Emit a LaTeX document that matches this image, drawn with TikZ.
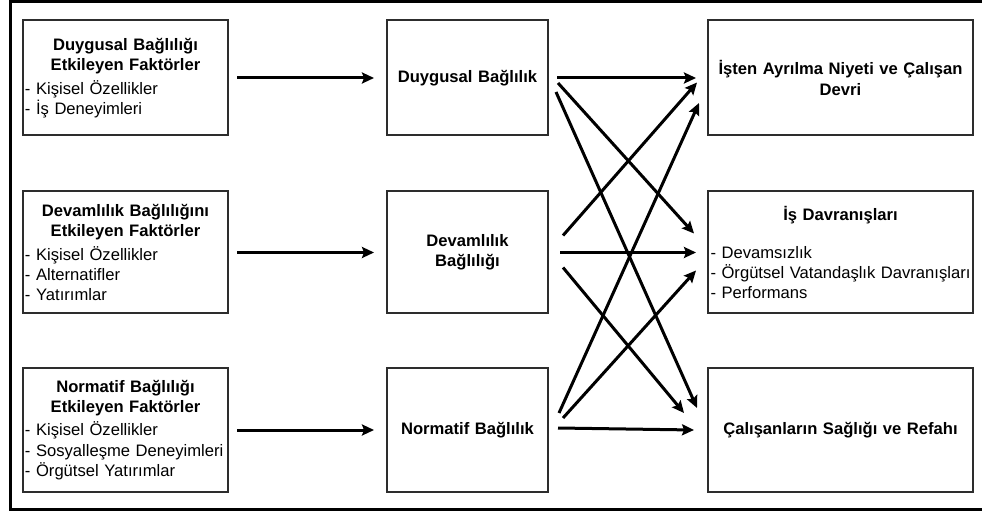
\documentclass[tikz,border=0pt]{standalone}
\usepackage{fontspec}
\setmainfont{Liberation Sans}
\usepackage{tikz}
\usetikzlibrary{arrows.meta,positioning}
\hyphenpenalty=10000
\definecolor{boxgray}{RGB}{45,45,45}
\tikzstyle{arrow} = [line width=0.06cm,->,>={Stealth[length=0.24cm,width=0.22cm,inset=0.04cm]}]
\tikzstyle{factor} = [rectangle, draw=boxgray, line width=0.04cm, minimum width=4.1cm, text width=4.02cm, inner xsep=0.04cm, align=left]
\tikzstyle{bond} = [rectangle, draw=boxgray, line width=0.04cm, minimum width=3.22cm, text width=3.06cm, inner xsep=0.08cm, align=center, font=\fontsize{9.45}{11.6}\selectfont\bfseries]
\tikzstyle{outcome} = [rectangle, draw=boxgray, line width=0.04cm, minimum width=5.3cm, text width=5.2cm, inner xsep=0.05cm, align=center, font=\fontsize{9.45}{11.6}\selectfont\bfseries]

\begin{document}
\begin{tikzpicture}[font=\fontsize{9.45}{11.6}\selectfont]
\useasboundingbox (0,0) rectangle (19.64,-10.26);
% Outer frame
\draw[line width=0.06cm] (19.8,-0.04) -- (0.2,-0.04) -- (0.2,-10.18) -- (19.8,-10.18);

% Factors on the left
\node (dfactors) [factor, minimum height=2.3cm] at (2.51,-1.56) {{\centering\bfseries Duygusal Bağlılığı\\ Etkileyen Faktörler\par}\vspace{0.06cm}
- Kişisel Özellikler\\
- İş Deneyimleri\par\vspace{0.2cm}};
\node (cfactors) [factor, below of=dfactors, node distance=3.49cm, minimum height=2.44cm] {{\centering\bfseries Devamlılık Bağlılığını\\ Etkileyen Faktörler\par}\vspace{0.06cm}
- Kişisel Özellikler\\
- Alternatifler\\
- Yatırımlar};
\node (nfactors) [factor, below of=cfactors, node distance=3.55cm, minimum height=2.48cm] {{\centering\bfseries Normatif Bağlılığı\\ Etkileyen Faktörler\par}\vspace{0.06cm}
- Kişisel Özellikler\\
- Sosyalleşme Deneyimleri\\
- Örgütsel Yatırımlar};

% Commitment types
\node (dbond) [bond, right of=dfactors, node distance=6.84cm, minimum height=2.3cm] {Duygusal Bağlılık};
\node (cbond) [bond, right of=cfactors, node distance=6.84cm, minimum height=2.44cm] {Devamlılık\\ Bağlılığı};
\node (nbond) [bond, right of=nfactors, node distance=6.84cm, minimum height=2.48cm] {Normatif Bağlılık};

% Outcomes on the right
\node (rtop) [outcome, right of=dbond, node distance=7.46cm, minimum height=2.3cm] {İşten Ayrılma Niyeti ve Çalışan\\ Devri};
\node (rmid) [outcome, right of=cbond, node distance=7.46cm, minimum height=2.44cm, align=left, font=\fontsize{9.45}{11.6}\selectfont] {{\centering\bfseries İş Davranışları\par}\vspace{0.35cm}
- Devamsızlık\\
- Örgütsel Vatandaşlık Davranışları\\
- Performans\par\vspace{-0.26cm}};
\node (rbot) [outcome, right of=nbond, node distance=7.46cm, minimum height=2.48cm] {Çalışanların Sağlığı ve Refahı};

% Factors to commitment
\draw[arrow] ([xshift=0.16cm]dfactors.east) -- ([xshift=-0.24cm]dbond.west);
\draw[arrow] ([xshift=0.16cm]cfactors.east) -- ([xshift=-0.24cm]cbond.west);
\draw[arrow] ([xshift=0.16cm]nfactors.east) -- ([xshift=-0.24cm]nbond.west);

% Commitment to outcomes
\draw[arrow] ([xshift=0.16cm]dbond.east) -- ([xshift=-0.22cm]rtop.west);
\draw[arrow] ([shift={(0.18,-0.1)}]dbond.east) -- ([shift={(-0.26,0.38)}]rmid.west);
\draw[arrow] ([shift={(0.14,-0.28)}]dbond.east) -- ([shift={(-0.2,0.44)}]rbot.west);

\draw[arrow] ([shift={(0.28,0.34)}]cbond.east) -- ([shift={(-0.2,-0.09)}]rtop.west);
\draw[arrow] ([xshift=0.22cm]cbond.east) -- ([xshift=-0.22cm]rmid.west);
\draw[arrow] ([shift={(0.28,-0.3)}]cbond.east) -- ([shift={(-0.46,0.34)}]rbot.west);

\draw[arrow] ([shift={(0.2,0.34)}]nbond.east) -- ([shift={(-0.16,-0.5)}]rtop.west);
\draw[arrow] ([shift={(0.28,0.24)}]nbond.east) -- ([shift={(-0.22,-0.36)}]rmid.west);
\draw[arrow] ([shift={(0.18,0.04)}]nbond.east) -- ([xshift=-0.26cm]rbot.west);
\end{tikzpicture}
\end{document}
